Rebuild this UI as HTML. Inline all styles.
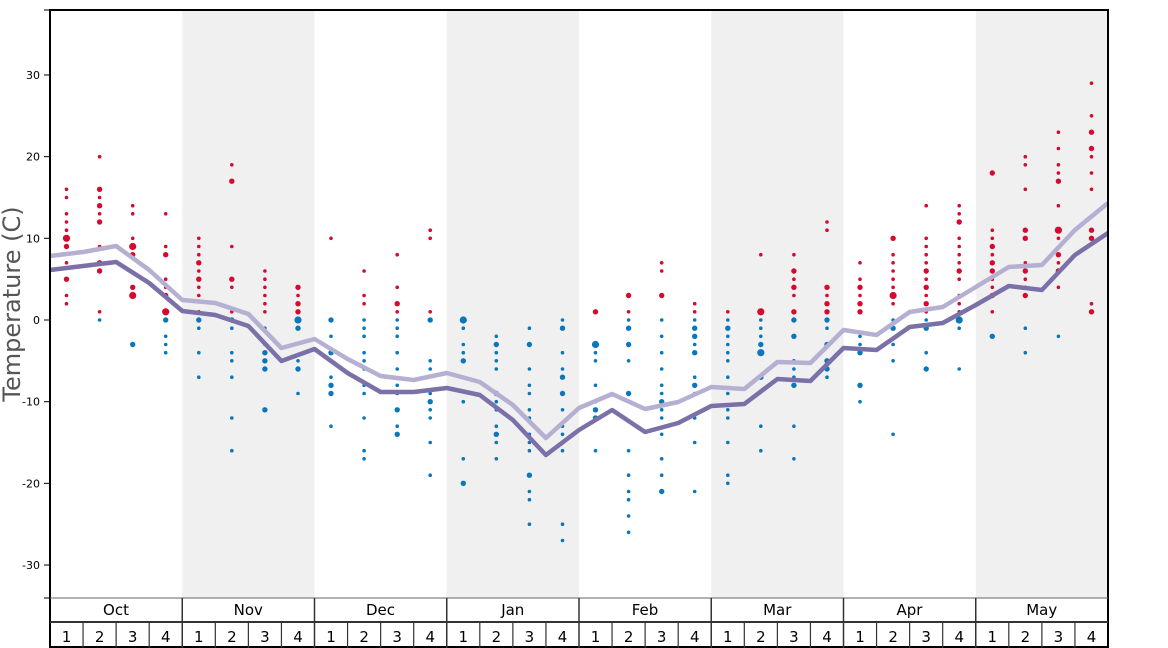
<!DOCTYPE html>
<html><head><meta charset="utf-8"><style>
html,body{margin:0;padding:0;background:#fff;}
svg{display:block;font-family:"DejaVu Sans","Liberation Sans",sans-serif;}
</style></head><body>
<svg id="c" width="1168" height="648" xmlns="http://www.w3.org/2000/svg">
<rect x="182.25" y="10" width="132.25" height="588" fill="#f0f0f0"/>
<rect x="446.75" y="10" width="132.25" height="588" fill="#f0f0f0"/>
<rect x="711.25" y="10" width="132.25" height="588" fill="#f0f0f0"/>
<rect x="975.75" y="10" width="132.25" height="588" fill="#f0f0f0"/>
<g id="dots"></g>
<polyline id="light" fill="none" stroke="#b5b0d2" stroke-width="4.5" stroke-linejoin="round"/>
<polyline id="dark" fill="none" stroke="#7b70a8" stroke-width="4.5" stroke-linejoin="round"/>
<g id="axes"></g>
<text transform="translate(20,304) rotate(-90)" text-anchor="middle" font-size="24" fill="#555">Temperature (C)</text>
</svg>
<script>
const NS="http://www.w3.org/2000/svg";
function el(p,t,a,txt){const e=document.createElementNS(NS,t);for(const k in a)e.setAttribute(k,a[k]);if(txt!==undefined)e.textContent=txt;p.appendChild(e);return e;}
const Y=v=>320-8.167*v;
const svg=document.getElementById('c');
const dk=[270,266,262,283,311,315,326,361,349,373,392,392,388,395,420,455,430,410,432,423,406,404,379,381,348,350,327,323,305,286,290,255,233];
const lt=[256,252,248,245,270,300,303,314,348,339,359,376,380,373,382,405,438,408,394,409,402,387,389,362,363,330,335,312,307,287,267,265,230,203];
// light list has an extra; rebuild correctly to 33
const lt2=[256,252,246,270,300,303,314,348,339,359,376,380,373,382,405,438,408,394,409,402,387,389,362,363,330,335,312,307,287,267,265,230,203];
const W=1058/32;
document.getElementById('dark').setAttribute('points',dk.map((y,i)=>(50+W*i).toFixed(1)+','+y).join(' '));
document.getElementById('light').setAttribute('points',lt2.map((y,i)=>(50+W*i).toFixed(1)+','+y).join(' '));
const R=[
"16 15 13 12 11 10L 9M 7 5M 3 2","20 16M 15 14M 13 12M 9 7M 6M 1","14 13 10 9L 8M 4M 3L","13 9 8M 5 4 3M 1L",
"10 9 8 7M 6 5M 4 3 1","19 17M 9 5M 4 1","6 5 4 3 2 1","4M 3 2M 1M",
"10","6 3 2","8 4 2M 1","11 10 1",
"","","","",
"1M","3M 1","7 6 3M","2 1",
"1","8 1L","8 6M 5 4M 3 1M","12 11 4M 3 2M 1M",
"7 5 4M 3 2M 1M","10M 8 7 6 5 4 3L 2","14 10 9 8 7 6M 5 4M 3 2M 1","14 13 12M 10 9 8 7 6M 5 3 2 1",
"18M 11 10 9M 8 7M 6M 5 4 3M 1","20 19 16 11M 10M 7 6M 5 4 3M","23 21 19 18 17M 14 11L 10 8M 7 6M 4","29 25 23M 21M 20 18 16 11M 10M 2 1M"];
const B=[
"","0","-3M","0M -2 -3 -4",
"0M -1 -4 -7","0M -1 -4 -5 -7 -12 -16","-1 -3 -4M -5M -6M -11M","0L -1M -5 -6M -9",
"0M -2 -4M -5 -7 -8M -9M -13","0 -1 -2 -4 -5 -6 -8 -9 -12 -16 -17","0 -1 -2 -4 -6 -8 -9 -11M -13 -14M","0M -5 -6 -9 -10M -11 -12 -15 -19",
"0L -1 -3 -4 -5M -10 -17 -20M","-2 -3M -4 -5 -6 -9M -10 -11 -13 -14M -15 -17","-1 -3M -6 -8 -9 -11 -12 -14 -15 -16 -19M -21 -22 -25","0 -1M -4 -6 -7M -9M -11 -13 -14 -16 -25 -27",
"-3L -4 -5 -8 -10 -11M -12M -16","0 -1M -3M -5 -9M -10 -16 -19 -21 -22 -24 -26","0 -2 -4 -6 -8 -9 -10M -11 -12 -14 -17 -19 -21M","0 -1M -2M -3 -4M -7 -8M -9 -12 -15 -21",
"0 -1M -2 -3 -4 -5 -7 -9 -11 -12 -15 -19 -20","0 -1 -2 -3M -4L -7M -13 -16","0M -2M -5 -6 -7 -8M -13 -17","0M -1 -3M -5M -6M -7",
"-2 -3 -4M -8M -10","0 -1M -3 -5 -14","0 -1M -4 -6M","0L -1 -6",
"-2M","-1 -4","-2",""];
const g=document.getElementById('dots');
function draw(arr,col){arr.forEach((s,i)=>{const x=50+W*(i+0.5);s.split(' ').filter(t=>t).forEach(t=>{let r=1.8;if(t.endsWith('L')){r=3.6;t=t.slice(0,-1);}else if(t.endsWith('M')){r=2.7;t=t.slice(0,-1);}el(g,'circle',{cx:x.toFixed(1),cy:Y(+t).toFixed(1),r:r,fill:col});});});}
draw(R,'#d50a2e');draw(B,'#0b77bb');
const a=document.getElementById('axes');
[30,20,10,0,-10,-20,-30].forEach(v=>{const y=Y(v);el(a,'line',{x1:44,x2:50,y1:y,y2:y,stroke:'#000','stroke-width':1});el(a,'text',{x:40,y:y+4,'text-anchor':'end','font-size':11,fill:'#000'},v);});
el(a,'line',{x1:44,x2:50,y1:10,y2:10,stroke:'#000'});el(a,'line',{x1:44,x2:50,y1:598,y2:598,stroke:'#000'});
el(a,'line',{x1:50,x2:1108,y1:10,y2:10,stroke:'#000','stroke-width':2});
el(a,'line',{x1:50,x2:50,y1:9,y2:648,stroke:'#000','stroke-width':2});
el(a,'line',{x1:1108,x2:1108,y1:9,y2:648,stroke:'#000','stroke-width':2});
el(a,'line',{x1:50,x2:1108,y1:598,y2:598,stroke:'#666','stroke-width':1});
el(a,'line',{x1:50,x2:1108,y1:622,y2:622,stroke:'#333','stroke-width':2});
el(a,'line',{x1:50,x2:1108,y1:647,y2:647,stroke:'#000','stroke-width':2});
const M=['Oct','Nov','Dec','Jan','Feb','Mar','Apr','May'];
M.forEach((m,i)=>{const x0=50+132.25*i;if(i>0)el(a,'line',{x1:x0,x2:x0,y1:598,y2:648,stroke:'#333','stroke-width':1.5});
el(a,'text',{x:x0+66,y:615,'text-anchor':'middle','font-size':15,fill:'#000'},m);
for(let w=0;w<4;w++){const xw=x0+W*w;if(w>0)el(a,'line',{x1:xw,x2:xw,y1:622,y2:648,stroke:'#333','stroke-width':1.2});
el(a,'text',{x:xw+W/2,y:642,'text-anchor':'middle','font-size':15,fill:'#000'},w+1);}});
</script>
</body></html>
